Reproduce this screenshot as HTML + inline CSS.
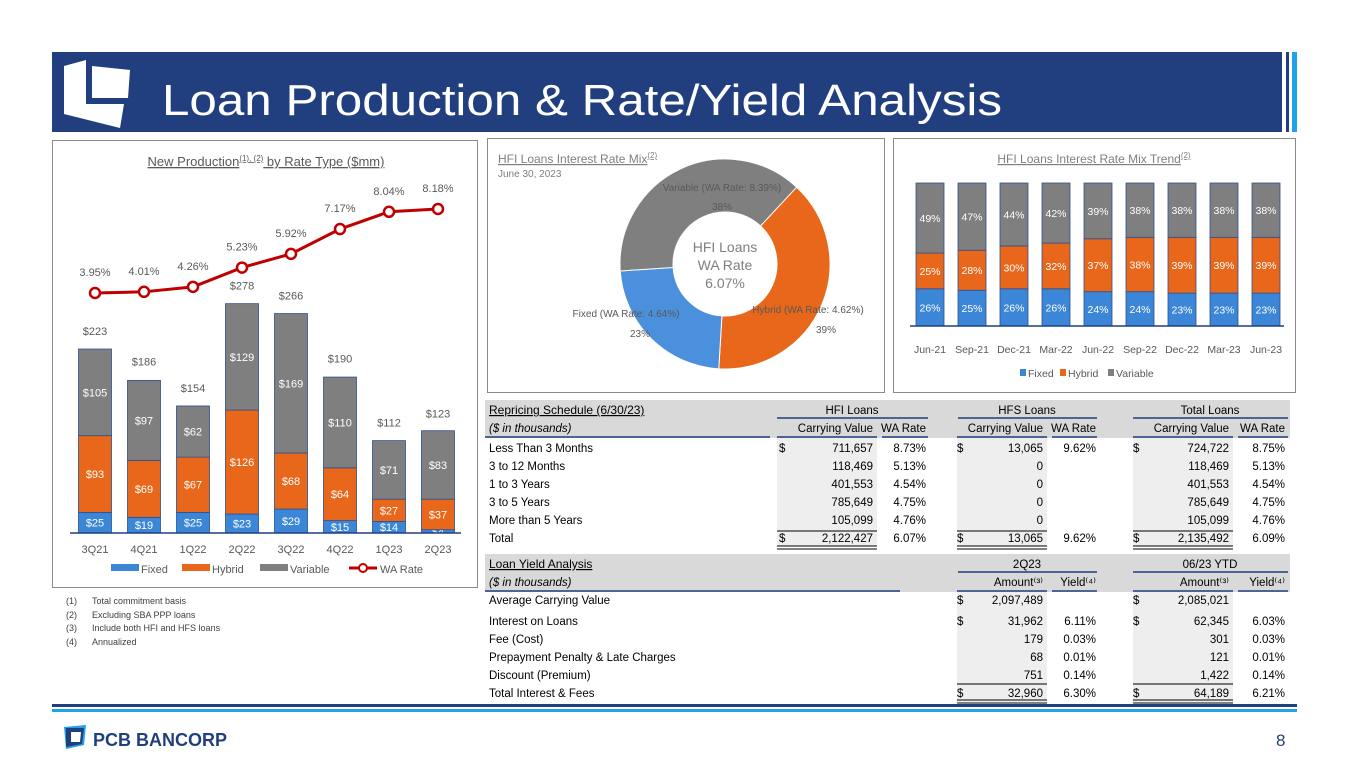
<!DOCTYPE html>
<html><head><meta charset="utf-8"><style>
html,body{margin:0;padding:0;background:#fff;}
svg{display:block;font-family:"Liberation Sans",sans-serif;}
</style></head><body>
<svg id="s" width="1365" height="768" viewBox="0 0 1365 768" xmlns="http://www.w3.org/2000/svg">
<!-- header -->
<rect x="52" y="52" width="1230" height="80" fill="#213f7e"/>
<rect x="1286" y="52" width="3" height="80" fill="#213f7e"/>
<rect x="1292" y="52" width="5" height="80" fill="#1ea3e8"/>
<g>
<polygon points="64,66 86,60 86,104 124,104 120,128 64,114" fill="#fff"/>
<polygon points="92,66 130,70 128,98 92,98" fill="#fff"/>
</g>
<text x="162" y="115" fill="#fff" font-size="44" textLength="840" lengthAdjust="spacingAndGlyphs">Loan Production &amp; Rate/Yield Analysis</text>

<!-- panels -->
<rect x="52.5" y="140.5" width="425" height="447" fill="#fff" stroke="#8a8a8a"/>
<rect x="487.5" y="138.5" width="397" height="254" fill="#fff" stroke="#8a8a8a"/>
<rect x="893.5" y="138.5" width="402" height="254" fill="#fff" stroke="#8a8a8a"/>

<text x="266" y="166" text-anchor="middle" font-size="13" fill="#595959" text-decoration="underline">New Production<tspan font-size="8" dy="-5">(1), (2)</tspan><tspan dy="5"> by Rate Type ($mm)</tspan></text>
<g id="prod"></g>

<text x="498" y="163" font-size="12" fill="#7f7f7f" text-decoration="underline">HFI Loans Interest Rate Mix<tspan font-size="8" dy="-5">(2)</tspan></text>
<text x="498" y="177" font-size="10" fill="#7f7f7f">June 30, 2023</text>
<g id="donut"></g>

<text x="1094" y="163" text-anchor="middle" font-size="12" fill="#7f7f7f" text-decoration="underline">HFI Loans Interest Rate Mix Trend<tspan font-size="8" dy="-5">(2)</tspan></text>
<g id="trend"></g>

<!-- footnotes -->
<g font-size="9" fill="#404040">
<text x="66" y="604">(1)</text><text x="92" y="604">Total commitment basis</text>
<text x="66" y="618">(2)</text><text x="92" y="618">Excluding SBA PPP loans</text>
<text x="66" y="631">(3)</text><text x="92" y="631">Include both HFI and HFS loans</text>
<text x="66" y="645">(4)</text><text x="92" y="645">Annualized</text>
</g>

<g id="tables" font-size="11.5" fill="#000"></g>

<!-- footer -->
<rect x="52" y="704" width="1245" height="3" fill="#213f7e"/>
<rect x="52" y="709" width="1245" height="3" fill="#1ea3e8"/>
<g>
<polygon points="64,727 86,725 84,745 66,749" fill="#1ea3e8"/>
<polygon points="66,728 84,728 82,744 66,747" fill="#213f7e"/>
<polygon points="71,732 81,732 80,742 71,742" fill="#fff"/>
<text x="93" y="746" font-size="18" font-weight="bold" fill="#213f7e">PCB BANCORP</text>
</g>
<text x="1276" y="746" font-size="17" fill="#213f7e">8</text>
</svg>
<script>
const NS="http://www.w3.org/2000/svg";
// production chart data
const quarters=['3Q21','4Q21','1Q22','2Q22','3Q22','4Q22','1Q23','2Q23'];
const prodFixed=[25,19,25,23,29,15,14,4];
const prodHybrid=[93,69,67,126,68,64,27,37];
const prodVariable=[105,97,62,129,169,110,71,83];
const prodTotals=[223,186,154,278,266,190,112,123];
const waRate=[3.95,4.01,4.26,5.23,5.92,7.17,8.04,8.18];
// donut data
const mixLabels=['Hybrid (WA Rate: 4.62%)','Fixed (WA Rate: 4.64%)','Variable (WA Rate: 8.39%)'];
const mixValues=[39,23,38];
// trend data
const trendDates=['Jun-21','Sep-21','Dec-21','Mar-22','Jun-22','Sep-22','Dec-22','Mar-23','Jun-23'];
const trendFixed=[26,25,26,26,24,24,23,23,23];
const trendHybrid=[25,28,30,32,37,38,39,39,39];
const trendVariable=[49,47,44,42,39,38,38,38,38];

const C={fixed:'#3b86d6',hybrid:'#e8671a',variable:'#7f7f7f',line:'#c00000'};
function mk(tag,attrs,parent,text){const e=document.createElementNS(NS,tag);for(const k in attrs)e.setAttribute(k,attrs[k]);if(text!==undefined)e.textContent=text;parent.appendChild(e);return e;}

// production
(function(){
const g=document.getElementById('prod');
const x=i=>95+i*49, y=v=>533-v*0.825, h=v=>v*0.825, yR=v=>293-(v-3.95)*19.86;
const bw=33;
quarters.forEach((q,i)=>{
  let base=0;
  [[prodFixed,C.fixed,'fixed'],[prodHybrid,C.hybrid,'hybrid'],[prodVariable,C.variable,'variable']].forEach(([arr,col,nm])=>{
    const v=arr[i];
    const r=mk('rect',{x:x(i)-bw/2,y:y(base+v),width:bw,height:h(v),fill:col,stroke:'#2f4f8f','stroke-width':0.8},g);
    
    
    const t=mk('text',{x:x(i),y:y(base+v/2)+4,'text-anchor':'middle','font-size':11,fill:'#fff'},g,'$'+v);
    
    
    base+=v;
  });
  const tt=mk('text',{x:x(i),y:y(prodTotals[i])-14,'text-anchor':'middle','font-size':11,fill:'#595959'},g,'$'+prodTotals[i]);
  
  
  const xl=mk('text',{x:x(i),y:553,'text-anchor':'middle','font-size':11,fill:'#595959'},g,q);
  
  
});
const ax=mk('line',{x1:70,x2:461,y1:533,y2:533,stroke:'#213f7e','stroke-width':1.5},g);


const pl=mk('polyline',{points:waRate.map((v,i)=>x(i)+','+yR(v)).join(' '),fill:'none',stroke:C.line,'stroke-width':3},g);


waRate.forEach((v,i)=>{
  const c=mk('circle',{cx:x(i),cy:yR(v),r:5,fill:'#fff',stroke:C.line,'stroke-width':2.5},g);
  
  
  const t=mk('text',{x:x(i),y:yR(v)-17,'text-anchor':'middle','font-size':11,fill:'#595959'},g,v.toFixed(2)+'%');
  
  
});
// legend
const lg=mk('g',{},g);


[['Fixed',C.fixed,111],['Hybrid',C.hybrid,182],['Variable',C.variable,260]].forEach(([n,c,lx])=>{
  mk('rect',{x:lx,y:564,width:28,height:7,fill:c},lg);
  mk('text',{x:lx+30,y:573,'font-size':11,fill:'#595959'},lg,n);
});
mk('line',{x1:349,x2:377,y1:568,y2:568,stroke:C.line,'stroke-width':3},lg);
mk('circle',{cx:363,cy:568,r:4,fill:'#fff',stroke:C.line,'stroke-width':2},lg);
mk('text',{x:380,y:573,'font-size':11,fill:'#595959'},lg,'WA Rate');
})();

// donut
(function(){
const g=document.getElementById('donut');
const cx=725,cy=264,R=105,r=52;
const cols=[C.hybrid,'#4a90dd',C.variable];
const names=['hybrid','fixed','variable'];
const total=mixValues.reduce((a,b)=>a+b,0);
let a0=43;
const pt=(a,rr)=>[cx+rr*Math.sin(a*Math.PI/180),cy-rr*Math.cos(a*Math.PI/180)];
const labelPos=[[808,313,826,333],[626,317,640,337],[722,191,722,210]];
mixValues.forEach((v,i)=>{
  const a1=a0+v/total*360;
  const [x0,y0]=pt(a0,R),[x1,y1]=pt(a1,R),[x2,y2]=pt(a1,r),[x3,y3]=pt(a0,r);
  const lg=(a1-a0)>180?1:0;
  const p=mk('path',{d:`M${x0},${y0}A${R},${R} 0 ${lg} 1 ${x1},${y1}L${x2},${y2}A${r},${r} 0 ${lg} 0 ${x3},${y3}Z`,fill:cols[i],stroke:'#fff','stroke-width':1},g);
  
  
  const lp=labelPos[i];
  const t=mk('text',{x:lp[0],y:lp[1],'text-anchor':'middle','font-size':10,fill:'#595959'},g,mixLabels[i]);
  
  
  const t2=mk('text',{x:lp[2],y:lp[3],'text-anchor':'middle','font-size':10,fill:'#595959'},g,v+'%');
  
  
  a0=a1;
});
const ct=mk('text',{x:cx,y:cy-12,'text-anchor':'middle','font-size':14,fill:'#7f7f7f'},g,'HFI Loans');


mk('text',{x:cx,y:cy+6,'text-anchor':'middle','font-size':14,fill:'#7f7f7f'},g,'WA Rate');
mk('text',{x:cx,y:cy+24,'text-anchor':'middle','font-size':14,fill:'#7f7f7f'},g,'6.07%');
})();

// trend
(function(){
const g=document.getElementById('trend');
const x=i=>930+i*42, y=v=>326-v*1.43, h=v=>v*1.43, bw=28;
trendDates.forEach((d,i)=>{
  let base=0;
  [[trendFixed,C.fixed,'fixed'],[trendHybrid,C.hybrid,'hybrid'],[trendVariable,C.variable,'variable']].forEach(([arr,col,nm])=>{
    const v=arr[i];
    const r=mk('rect',{x:x(i)-bw/2,y:y(base+v),width:bw,height:h(v),fill:col,stroke:'#2f4f8f','stroke-width':0.8},g);
    
    
    const t=mk('text',{x:x(i),y:y(base+v/2)+4,'text-anchor':'middle','font-size':10.5,fill:'#fff'},g,v+'%');
    
    
    base+=v;
  });
  const xl=mk('text',{x:x(i),y:353,'text-anchor':'middle','font-size':10.5,fill:'#595959'},g,d);
  
  
});
const ax=mk('line',{x1:910,x2:1284,y1:326,y2:326,stroke:'#213f7e','stroke-width':1.5},g);


const lg=mk('g',{},g);


[['Fixed',C.fixed,1020],['Hybrid',C.hybrid,1060],['Variable',C.variable,1108]].forEach(([n,c,lx])=>{
  mk('rect',{x:lx,y:369,width:6,height:7,fill:c},lg);
  mk('text',{x:lx+8,y:377,'font-size':10.5,fill:'#595959'},lg,n);
});
})();

// tables
(function(){
const g=document.getElementById('tables');
function band(y,hh,name){const r=mk('rect',{x:485,y:y,width:805,height:hh,fill:'#d9d9d9'},g);}
function shade(x,y,w,hh){mk('rect',{x:x,y:y,width:w,height:hh,fill:'#eeeeee'},g);}
function line(x1,x2,yy,c,w){mk('line',{x1:x1,x2:x2,y1:yy,y2:yy,stroke:c||'#213f7e','stroke-width':w||1.5},g);}
function t(x,y,s,opt){const o=Object.assign({x:x,y:y},opt||{});return mk('text',o,g,s);}
const E={'text-anchor':'end'},M={'text-anchor':'middle'};
band(400,38,'repricing-header-band');
shade(777,438,100,108);shade(957,438,90,108);shade(1133,438,100,108);
const h1=t(489,414,'Repricing Schedule (6/30/23)',{'text-decoration':'underline','font-size':12});

t(489,432,'($ in thousands)',{'font-style':'italic'});
t(852,414,'HFI Loans',M);t(1027,414,'HFS Loans',M);t(1210,414,'Total Loans',M);
line(777,928,418);line(958,1097,418);line(1133,1288,418);
t(873,432,'Carrying Value',E);t(926,432,'WA Rate',E);t(1043,432,'Carrying Value',E);t(1096,432,'WA Rate',E);t(1229,432,'Carrying Value',E);t(1285,432,'WA Rate',E);
line(485,770,437);line(777,877,437);line(882,928,437);line(957,1047,437);line(1052,1097,437);line(1133,1233,437);line(1238,1288,437);
const rows=[['Less Than 3 Months','711,657','8.73%','13,065','9.62%','724,722','8.75%',1],
['3 to 12 Months','118,469','5.13%','0','','118,469','5.13%',0],
['1 to 3 Years','401,553','4.54%','0','','401,553','4.54%',0],
['3 to 5 Years','785,649','4.75%','0','','785,649','4.75%',0],
['More than 5 Years','105,099','4.76%','0','','105,099','4.76%',0],
['Total','2,122,427','6.07%','13,065','9.62%','2,135,492','6.09%',1]];
rows.forEach((r,i)=>{const yy=452+i*18;
 const l=t(489,yy,r[0]);
 t(873,yy,r[1],E);t(926,yy,r[2],E);t(1043,yy,r[3],E);t(1096,yy,r[4],E);t(1229,yy,r[5],E);t(1285,yy,r[6],E);
 if(r[7]){t(779,yy,'$');t(957,yy,'$');t(1133,yy,'$');}
});
[[777,877],[957,1047],[1133,1233]].forEach(([a,b])=>{line(a,b,531,'#000',1);line(a,b,546,'#000',1);line(a,b,549,'#000',1);});

band(554,38,'yield-header-band');
shade(957,592,90,110);shade(1133,592,100,110);
const h2=t(489,568,'Loan Yield Analysis',{'text-decoration':'underline','font-size':12});

t(489,586,'($ in thousands)',{'font-style':'italic'});
t(1027,568,'2Q23',M);t(1210,568,'06/23 YTD',M);
line(958,1097,572);line(1133,1288,572);
t(1043,586,'Amount⁽³⁾',E);t(1096,586,'Yield⁽⁴⁾',E);t(1229,586,'Amount⁽³⁾',E);t(1285,586,'Yield⁽⁴⁾',E);
line(485,900,591);line(957,1047,591);line(1052,1097,591);line(1133,1233,591);line(1238,1288,591);
t(489,604,'Average Carrying Value');t(957,604,'$');t(1043,604,'2,097,489',E);t(1133,604,'$');t(1229,604,'2,085,021',E);
const yr=[['Interest on Loans','31,962','6.11%','62,345','6.03%',1],
['Fee (Cost)','179','0.03%','301','0.03%',0],
['Prepayment Penalty & Late Charges','68','0.01%','121','0.01%',0],
['Discount (Premium)','751','0.14%','1,422','0.14%',0],
['Total Interest & Fees','32,960','6.30%','64,189','6.21%',1]];
yr.forEach((r,i)=>{const yy=625+i*18;
 const l=t(489,yy,r[0]);
 t(1043,yy,r[1],E);t(1096,yy,r[2],E);t(1229,yy,r[3],E);t(1285,yy,r[4],E);
 if(r[5]){t(957,yy,'$');t(1133,yy,'$');}
});
[[957,1047],[1133,1233]].forEach(([a,b])=>{line(a,b,684,'#000',1);line(a,b,700,'#000',1);line(a,b,703,'#000',1);});
})();
</script>
</body></html>
